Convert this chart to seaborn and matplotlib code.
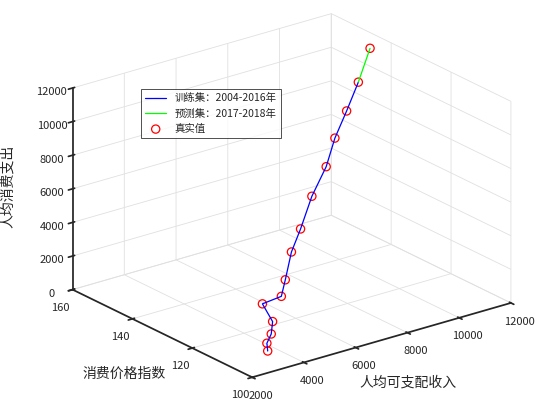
import matplotlib
matplotlib.use("Agg")
import matplotlib.pyplot as plt
import seaborn as sns
import numpy as np

sns.set_theme(style="white")
plt.rcParams['font.family'] = ['Noto Sans CJK SC', 'DejaVu Sans']

years = list(range(2004, 2019))
income = [2600, 2800, 3200, 3600, 3900, 4400, 4900, 5600, 6300, 7200, 8100, 8900, 9700, 10500, 11300]
cpi = [100, 102, 104, 107, 113, 111, 114, 118, 121, 125, 128, 132, 135, 138, 141]
consume = [1300, 1500, 1700, 2000, 2400, 2800, 3300, 4300, 5100, 6300, 7400, 8400, 9400, 10500, 11900]

fig = plt.figure(figsize=(5.6, 4.2), dpi=100)
ax = fig.add_axes([-0.03, -0.02, 1.08, 1.08], projection='3d')
ax.set_proj_type('ortho')
ax.view_init(elev=22, azim=-127.5)
ax.set_box_aspect((1.05, 0.95, 0.70), zoom=1.05)
n_train = 14
ax.plot(income[:n_train], cpi[:n_train], consume[:n_train], color='blue', lw=0.9, label='训练集：2004-2016年')
ax.plot(income[n_train-1:], cpi[n_train-1:], consume[n_train-1:], color='#00ff00', lw=0.9, label='预测集：2017-2018年')
ax.scatter(income, cpi, consume, facecolors='none', edgecolors='red', s=35, linewidths=0.9, label='真实值', depthshade=False)
ax.set_xlim(2000, 12000)
ax.set_ylim(100, 160)
ax.set_zlim(0, 12000)
ax.set_xticks([2000, 4000, 6000, 8000, 10000, 12000])
ax.set_yticks([100, 120, 140, 160])
ax.set_zticks(range(0, 12001, 2000))
ax.set_xlabel('人均可支配收入', fontsize=10, rotation=0)
ax.set_ylabel('消费价格指数', fontsize=10, rotation=0)
ax.set_zlabel('人均消费支出', fontsize=10)
ax.xaxis.set_rotate_label(False)
ax.yaxis.set_rotate_label(False)
for a in (ax.xaxis, ax.yaxis, ax.zaxis):
    a.set_pane_color((1, 1, 1, 1))
    a._axinfo['grid']['color'] = (0.88, 0.88, 0.88, 1)
    a._axinfo['grid']['linewidth'] = 0.6
    a.line.set_color('#262626')
ax.tick_params(labelsize=8, pad=0, colors='#262626')
leg = ax.legend(loc='upper left', bbox_to_anchor=(0.17, 0.76), fontsize=7.5, frameon=True, fancybox=False, edgecolor='black')
leg.get_frame().set_linewidth(0.6)
fig.savefig('out.png', dpi=100)
